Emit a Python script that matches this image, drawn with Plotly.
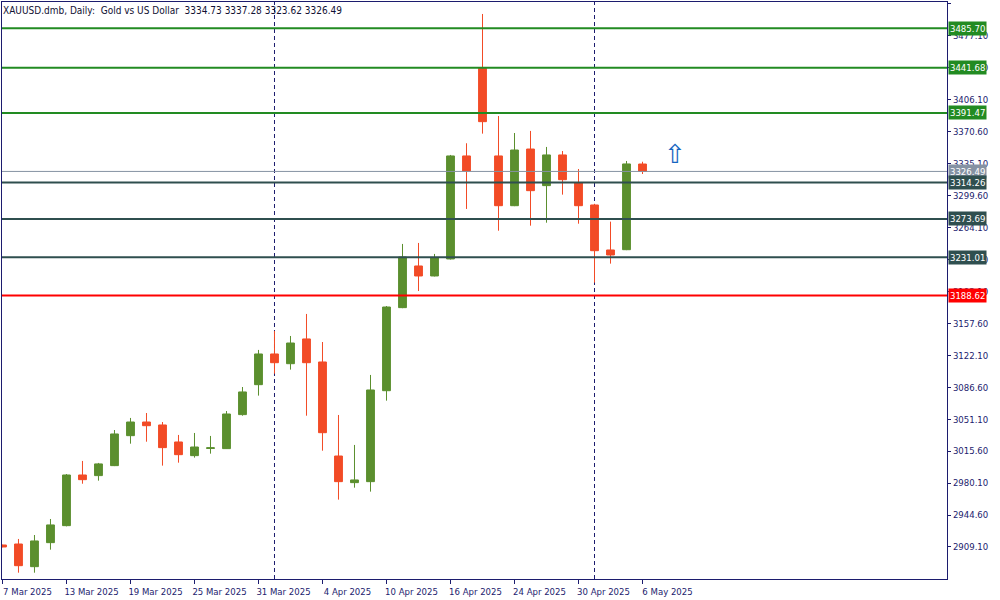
import datetime as dt
import plotly.graph_objects as go

# ---------------- data ----------------
dates = ["2025-03-07", "2025-03-10", "2025-03-11", "2025-03-12", "2025-03-13", "2025-03-14",
         "2025-03-17", "2025-03-18", "2025-03-19", "2025-03-20", "2025-03-21", "2025-03-24",
         "2025-03-25", "2025-03-26", "2025-03-27", "2025-03-28", "2025-03-31", "2025-04-01",
         "2025-04-02", "2025-04-03", "2025-04-04", "2025-04-07", "2025-04-08", "2025-04-09",
         "2025-04-10", "2025-04-11", "2025-04-14", "2025-04-15", "2025-04-16", "2025-04-17",
         "2025-04-22", "2025-04-23", "2025-04-24", "2025-04-25", "2025-04-28", "2025-04-29",
         "2025-04-30", "2025-05-01", "2025-05-02", "2025-05-05", "2025-05-06"]

opens = [2911.3, 2912.4, 2887.2, 2913.9, 2932.8, 2989.1, 2988.4, 2999.5, 3032.8, 3048.0,
         3044.7, 3025.8, 3010.6, 3018.6, 3018.4, 3056.2, 3089.5, 3123.6, 3112.8, 3140.3,
         3114.7, 3010.2, 2980.6, 2981.7, 3082.8, 3175.1, 3221.4, 3210.3, 3229.2, 3343.7,
         3441.1, 3343.7, 3288.4, 3351.4, 3310.7, 3344.8, 3314.0, 3289.2, 3239.2, 3239.5,
         3334.73]
highs = [2911.6, 2918.0, 2922.4, 2940.2, 2990.2, 3004.7, 3002.5, 3039.1, 3052.5, 3058.0,
         3048.0, 3033.6, 3035.8, 3032.5, 3060.2, 3086.9, 3128.1, 3149.2, 3143.6, 3168.1,
         3136.9, 3055.8, 3022.5, 3100.3, 3176.9, 3245.9, 3247.0, 3234.8, 3344.8, 3357.8,
         3501.5, 3388.1, 3369.2, 3371.5, 3353.7, 3349.2, 3329.2, 3290.5, 3270.7, 3338.1,
         3337.28]
lows = [2908.8, 2880.5, 2880.5, 2906.1, 2932.0, 2979.4, 2982.8, 2999.0, 3023.9, 3026.1,
        2999.5, 3002.8, 3008.4, 3012.8, 3018.0, 3055.0, 3077.3, 3101.7, 3106.2, 3055.0,
        3016.1, 2961.7, 2975.0, 2970.6, 3071.7, 3174.5, 3193.6, 3209.8, 3228.6, 3284.8,
        3368.5, 3260.6, 3287.9, 3266.2, 3269.5, 3300.7, 3268.4, 3202.9, 3224.0, 3239.0,
        3323.62]
closes = [2909.1, 2888.3, 2915.8, 2933.6, 2989.1, 2983.9, 3001.4, 3034.7, 3048.0, 3043.9,
          3019.5, 3011.7, 3020.2, 3019.3, 3056.9, 3081.4, 3123.6, 3113.9, 3135.8, 3113.9,
          3036.1, 2981.7, 2983.6, 3083.6, 3175.8, 3231.4, 3210.3, 3230.3, 3343.7, 3327.0,
          3381.8, 3288.4, 3350.3, 3305.1, 3344.8, 3317.3, 3288.4, 3238.4, 3233.6, 3334.8,
          3326.49]

level_values = [3485.70, 3441.68, 3391.47, 3314.26, 3273.69, 3231.01, 3188.62]
level_colors = ["#228B22", "#228B22", "#228B22", "#2F4F4F", "#2F4F4F", "#2F4F4F", "#FF0000"]

y_tick_values = [2909.10, 2944.60, 2980.10, 3015.60, 3051.10, 3086.60, 3122.10, 3157.60,
                 3193.10, 3228.60, 3264.10, 3299.60, 3335.10, 3370.60, 3406.10, 3441.60,
                 3477.10, 3512.60]

title_text = "XAUUSD.dmb, Daily:  Gold vs US Dollar  3334.73 3337.28 3323.62 3326.49"
signal_bar = 42          # position of the blue up-arrow marker
signal_price = 3346.0

# ---------------- styling ----------------
GREEN = "#5B8F2E"
RED = "#F24B26"
NAVY = "#1C1C6E"
FONT = "DejaVu Sans Condensed"

x = list(range(len(dates)))
parsed = [dt.date.fromisoformat(d) for d in dates]
tick_idx = x[::4]
tick_text = [f"{parsed[i].day} {parsed[i].strftime('%b %Y')}" for i in tick_idx]
month_starts = [i for i in range(1, len(parsed)) if parsed[i].month != parsed[i - 1].month]

fig = go.Figure()
fig.add_trace(go.Candlestick(
    x=x, open=opens, high=highs, low=lows, close=closes,
    increasing=dict(line=dict(color=GREEN, width=1), fillcolor=GREEN),
    decreasing=dict(line=dict(color=RED, width=1), fillcolor=RED),
    whiskerwidth=0, showlegend=False, hoverinfo="skip",
))

shapes = []
for i in month_starts:
    shapes.append(dict(type="line", xref="x", yref="paper", x0=i, x1=i, y0=0, y1=1,
                       line=dict(color=NAVY, width=1, dash="4px,3px"), layer="below"))
# bid line
shapes.append(dict(type="line", xref="paper", yref="y", x0=0, x1=1,
                   y0=closes[-1], y1=closes[-1], line=dict(color="#8592A3", width=1), layer="above"))
for v, c in zip(level_values, level_colors):
    shapes.append(dict(type="line", xref="paper", yref="y", x0=0, x1=1, y0=v, y1=v,
                       line=dict(color=c, width=2), layer="above"))

annotations = []
annotations.append(dict(xref="paper", yref="y", x=1, y=closes[-1], xanchor="left", yanchor="middle",
                        xshift=1, text=f"{closes[-1]:.2f}", showarrow=False, bgcolor="#8592A3",
                        borderpad=1, font=dict(family=FONT, size=9.5, color="white")))
for v, c in zip(level_values, level_colors):
    annotations.append(dict(xref="paper", yref="y", x=1, y=v, xanchor="left", yanchor="middle",
                            xshift=1, text=f"{v:.2f}", showarrow=False, bgcolor=c, borderpad=1,
                            font=dict(family=FONT, size=9.5, color="white")))
annotations.append(dict(xref="paper", yref="paper", x=0, y=1, xanchor="left", yanchor="top",
                        xshift=-1, yshift=-1, text=title_text, showarrow=False,
                        font=dict(family=FONT, size=10, color="#111133")))
annotations.append(dict(xref="x", yref="y", x=signal_bar, y=signal_price, text="⇧",
                        showarrow=False, font=dict(family="DejaVu Sans", size=26, color="#1565C0")))

fig.update_layout(
    width=1000, height=600,
    margin=dict(l=2, r=53, t=2, b=21, autoexpand=False),
    paper_bgcolor="white", plot_bgcolor="white",
    shapes=shapes, annotations=annotations,
    font=dict(family=FONT, size=9.5, color=NAVY),
    xaxis=dict(type="linear", range=[-0.03, 59.03], tickvals=tick_idx, ticktext=tick_text,
               ticks="outside", ticklen=4, tickcolor=NAVY, showline=True, linecolor=NAVY,
               linewidth=1, mirror=True, showgrid=False, zeroline=False, automargin=False,
               rangeslider=dict(visible=False), ticklabelshift=25,
               tickfont=dict(family=FONT, size=9.5, color=NAVY)),
    yaxis=dict(side="right", range=[2873.5, 3514.8], tickvals=y_tick_values,
               ticktext=[f"{v:.2f}" for v in y_tick_values], ticks="outside", ticklen=3,
               tickcolor=NAVY, showline=True, linecolor=NAVY, linewidth=1, mirror=True,
               showgrid=False, zeroline=False, automargin=False,
               tickfont=dict(family=FONT, size=9.5, color=NAVY)),
)

fig.write_html("out.html", config={"displayModeBar": False},
               post_script="document.body.style.margin='0';")
